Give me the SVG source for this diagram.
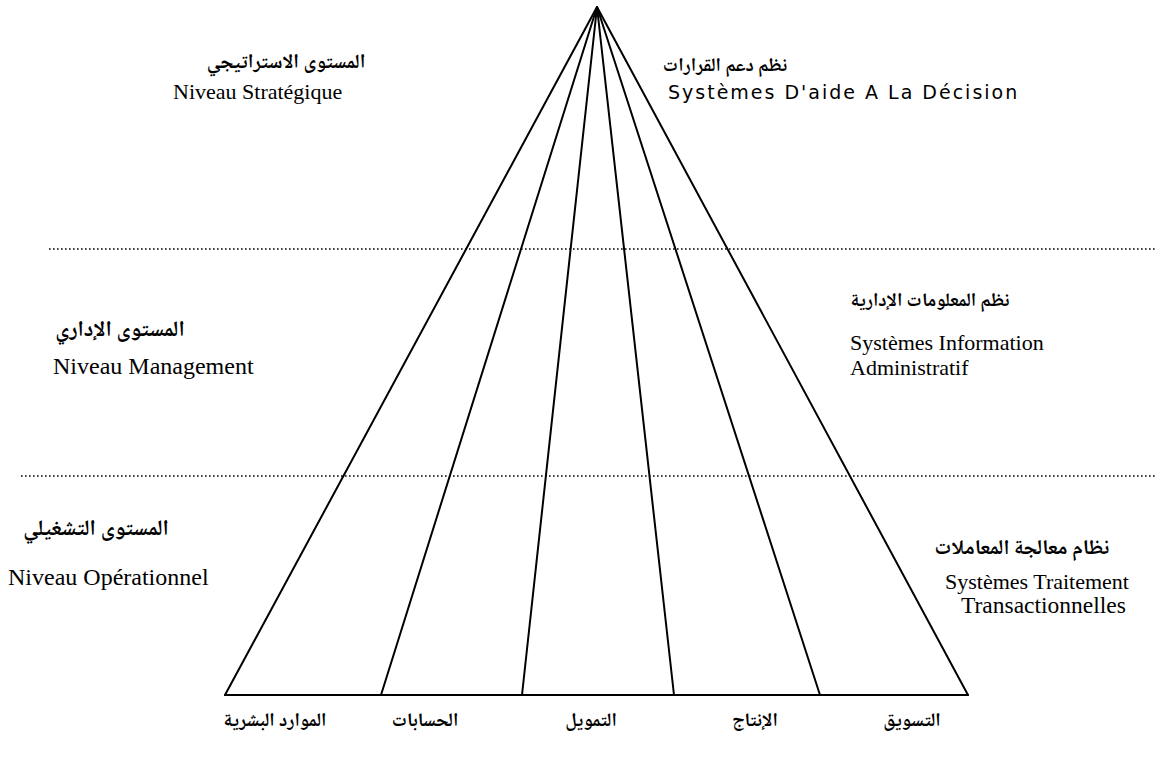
<svg xmlns="http://www.w3.org/2000/svg" width="1156" height="764" viewBox="0 0 1156 764">
  <style>
    .ar { font-family: "Noto Naskh Arabic", "Noto Sans Arabic", "DejaVu Sans", sans-serif; font-weight: bold; font-size: 19px; fill: #000; text-anchor: middle; }
    .ar-lg { font-size: 22px; }
    .fr { font-family: "Liberation Serif", "Times New Roman", serif; font-size: 22px; fill: #000; }
    .fr-lg { font-size: 24px; }
    .frs { font-family: "DejaVu Sans", "Liberation Sans", sans-serif; font-size: 19px; letter-spacing: 2px; fill: #000; }
    .edge { stroke: #000; stroke-width: 2; fill: none; stroke-linecap: round; }
    .level { stroke: #000; stroke-width: 1.6; stroke-dasharray: 1.6 2.4; fill: none; }
  </style>

  <rect width="1156" height="764" fill="#fff"/>

  <!-- level separators -->
  <g id="levels">
    <line class="level" x1="49" y1="249" x2="1156" y2="249"/>
    <line class="level" x1="21" y1="476" x2="1156" y2="476"/>
  </g>

  <!-- pyramid: rays from the apex to the base, one per function -->
  <g id="connectors">
    <line class="edge" x1="597" y1="7" x2="225" y2="695"/>
    <line class="edge" x1="597" y1="7" x2="381" y2="695"/>
    <line class="edge" x1="597" y1="7" x2="522" y2="695"/>
    <line class="edge" x1="597" y1="7" x2="674" y2="695"/>
    <line class="edge" x1="597" y1="7" x2="820" y2="695"/>
    <line class="edge" x1="597" y1="7" x2="968" y2="695"/>
    <line class="edge" x1="225" y1="695" x2="968" y2="695"/>
  </g>

  <!-- levels (left) -->
  <g id="strategic-level">
    <text class="ar" x="286" y="68" style="font-size:20px">المستوى الاستراتيجي</text>
    <text class="fr" x="173" y="99">Niveau Stratégique</text>
  </g>
  <g id="management-level">
    <text class="ar ar-lg" x="120" y="336">المستوى الإداري</text>
    <text class="fr fr-lg" x="53" y="374">Niveau Management</text>
  </g>
  <g id="operational-level">
    <text class="ar ar-lg" x="96" y="535">المستوى التشغيلي</text>
    <text class="fr fr-lg" x="8" y="585">Niveau Opérationnel</text>
  </g>

  <!-- systems (right) -->
  <g id="decision-support">
    <text class="ar" x="725" y="71">نظم دعم القرارات</text>
    <text class="frs" x="668" y="99">Systèmes D'aide A La Décision</text>
  </g>
  <g id="management-information">
    <text class="ar" x="930" y="306">نظم المعلومات الإدارية</text>
    <text class="fr" x="850" y="350">Systèmes Information</text>
    <text class="fr" x="850" y="375">Administratif</text>
  </g>
  <g id="transaction-processing">
    <text class="ar" x="1022" y="554" style="font-size:21px">نظام معالجة المعاملات</text>
    <text class="fr" x="945" y="589">Systèmes Traitement</text>
    <text class="fr" x="961" y="613" style="font-size:23.5px">Transactionnelles</text>
  </g>

  <!-- business functions along the base -->
  <g id="human-resources"><text class="ar" x="275" y="726">الموارد البشرية</text></g>
  <g id="accounting"><text class="ar" x="425" y="726">الحسابات</text></g>
  <g id="finance"><text class="ar" x="591" y="726">التمويل</text></g>
  <g id="production"><text class="ar" x="755" y="726">الإنتاج</text></g>
  <g id="marketing"><text class="ar" x="912" y="726">التسويق</text></g>
</svg>
